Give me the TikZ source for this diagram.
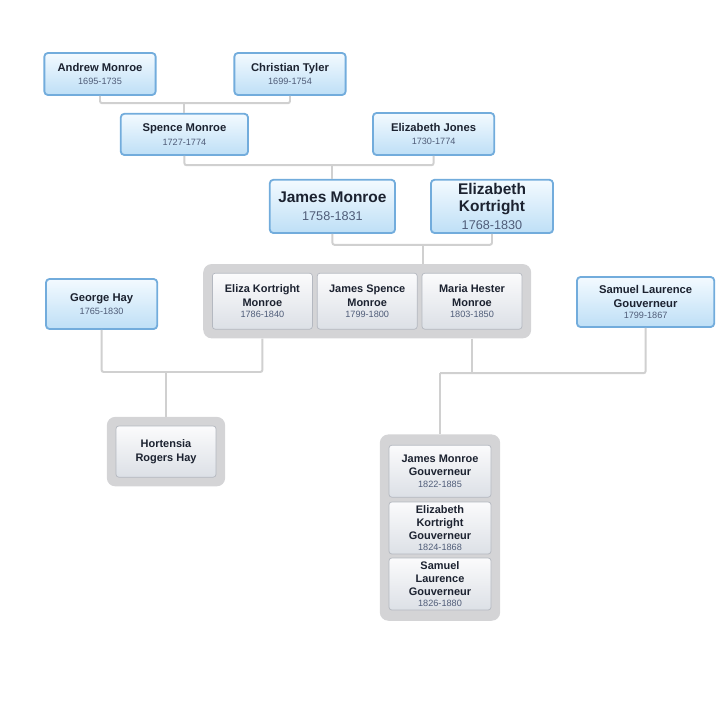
\documentclass[tikz,border=0pt]{standalone}
\usepackage{fontspec}
\setmainfont{Liberation Sans}
\usetikzlibrary{fit, backgrounds}

\definecolor{bluetop}{HTML}{F3FAFF}
\definecolor{bluebot}{HTML}{BEDFF6}
\definecolor{blueline}{HTML}{72ACDC}
\definecolor{greytop}{HTML}{FBFBFC}
\definecolor{greybot}{HTML}{DCE0E6}
\definecolor{greyline}{HTML}{B4B8C0}
\definecolor{famgrey}{HTML}{D4D4D6}
\definecolor{linkgrey}{HTML}{D0D0D0}
\definecolor{namecol}{HTML}{1C2230}
\definecolor{yrcol}{HTML}{4F5C78}

\newcommand{\yrs}[1]{{\fontsize{6.5}{8}\selectfont\mdseries\color{yrcol}#1}}
\newcommand{\bigyrs}[1]{{\fontsize{9}{11}\selectfont\mdseries\color{yrcol}#1}}

\begin{document}
\begin{tikzpicture}[
  person/.style={draw=blueline, line width=1.3pt, rounded corners=2.5pt, top color=bluetop, bottom color=bluebot,
    align=center, text=namecol, font=\fontsize{8}{9.6}\selectfont\bfseries, minimum height=1.05cm, inner sep=1pt},
  bigperson/.style={person, font=\fontsize{11}{12.5}\selectfont\bfseries, minimum width=3.13cm, minimum height=1.33cm},
  child/.style={draw=greyline, line width=0.5pt, rounded corners=2pt, top color=greytop, bottom color=greybot,
    align=center, text=namecol, font=\fontsize{7.8}{9.4}\selectfont\bfseries, minimum width=2.5cm, minimum height=1.4cm, inner sep=1pt},
  family/.style={fill=famgrey, rounded corners=6pt, inner sep=0.22cm},
  link/.style={draw=linkgrey, line width=1.4pt, rounded corners=1.5pt}]

\useasboundingbox (0,0) rectangle (18,-17.575);

% ---- grandparents ------------------------------------------------------------------
\node[person, minimum width=2.78cm] (andrew) at (2.50,-1.85) {Andrew Monroe\\\yrs{1695-1735}};
\node[person, minimum width=2.78cm] (christian) at (7.25,-1.85) {Christian Tyler\\\yrs{1699-1754}};

% ---- parents -----------------------------------------------------------------------
\node[person, minimum width=3.18cm, minimum height=1.03cm] (spence) at (4.61,-3.36) {Spence Monroe\\\yrs{1727-1774}};
\node[person, minimum width=3.03cm] (jones) at (10.84,-3.35) {Elizabeth Jones\\\yrs{1730-1774}};

% ---- the couple --------------------------------------------------------------------
\node[bigperson] (james) at (8.31,-5.16) {James Monroe\\\bigyrs{1758-1831}};
\node[bigperson, minimum width=3.05cm] (kortright) at (12.30,-5.16) {Elizabeth\\Kortright\\\bigyrs{1768-1830}};

% ---- children and spouses ----------------------------------------------------------
\node[child] (eliza) at (6.56,-7.53) {Eliza Kortright\\Monroe\\[-1.5pt]\yrs{1786-1840}};
\node[child] (jspence) at (9.18,-7.53) {James Spence\\Monroe\\[-1.5pt]\yrs{1799-1800}};
\node[child] (maria) at (11.80,-7.53) {Maria Hester\\Monroe\\[-1.5pt]\yrs{1803-1850}};
\node[person, minimum width=2.78cm, minimum height=1.25cm] (hay) at (2.54,-7.60) {George Hay\\\yrs{1765-1830}};
\node[person, minimum width=3.43cm, minimum height=1.25cm] (samuel) at (16.14,-7.55) {Samuel Laurence\\Gouverneur\\[-1.5pt]\yrs{1799-1867}};

% ---- grandchildren -----------------------------------------------------------------
\node[child, minimum height=1.28cm] (hortensia) at (4.15,-11.29) {Hortensia\\Rogers Hay};
\node[child, minimum width=2.55cm, minimum height=1.3cm] (jmg) at (11.00,-11.78) {James Monroe\\Gouverneur\\[-1.5pt]\yrs{1822-1885}};
\node[child, minimum width=2.55cm, minimum height=1.3cm] (ekg) at (11.00,-13.20) {Elizabeth\\Kortright\\Gouverneur\\[-1.5pt]\yrs{1824-1868}};
\node[child, minimum width=2.55cm, minimum height=1.3cm] (slg) at (11.00,-14.60) {Samuel\\Laurence\\Gouverneur\\[-1.5pt]\yrs{1826-1880}};

\begin{scope}[on background layer]
  \node[family, fit=(eliza)(maria)] (kids) {};
  \node[family, fit=(hortensia)] (hgroup) {};
  \node[family, fit=(jmg)(slg), inner ysep=0.26cm] (ggroup) {};
\end{scope}

% ---- connectors --------------------------------------------------------------------
\coordinate (j1) at (4.61,-2.58);
\draw[link] (andrew.south) |- (j1) -| (christian.south);
\draw[link] (j1) -- (spence.north);

\coordinate (j2) at (8.31,-4.13);
\draw[link] (spence.south) |- (j2) -| (jones.south);
\draw[link] (j2) -- (james.north);

\coordinate (j3) at (10.57,-6.12);
\draw[link] (james.south) |- (j3) -| (kortright.south);
\draw[link] (j3) -- (j3 |- kids.north);

\coordinate (j4) at (4.15,-9.30);
\draw[link] (hay.south) |- (j4) -| (eliza.south |- kids.south);
\draw[link] (j4) -- (hgroup.north);

\coordinate (j5) at (11.00,-9.33);
\draw[link] (maria.south |- kids.south) -- (maria.south |- j5);
\draw[link] (j5) -| (samuel.south);
\draw[link] (j5) -- (ggroup.north);

\end{tikzpicture}
\end{document}
